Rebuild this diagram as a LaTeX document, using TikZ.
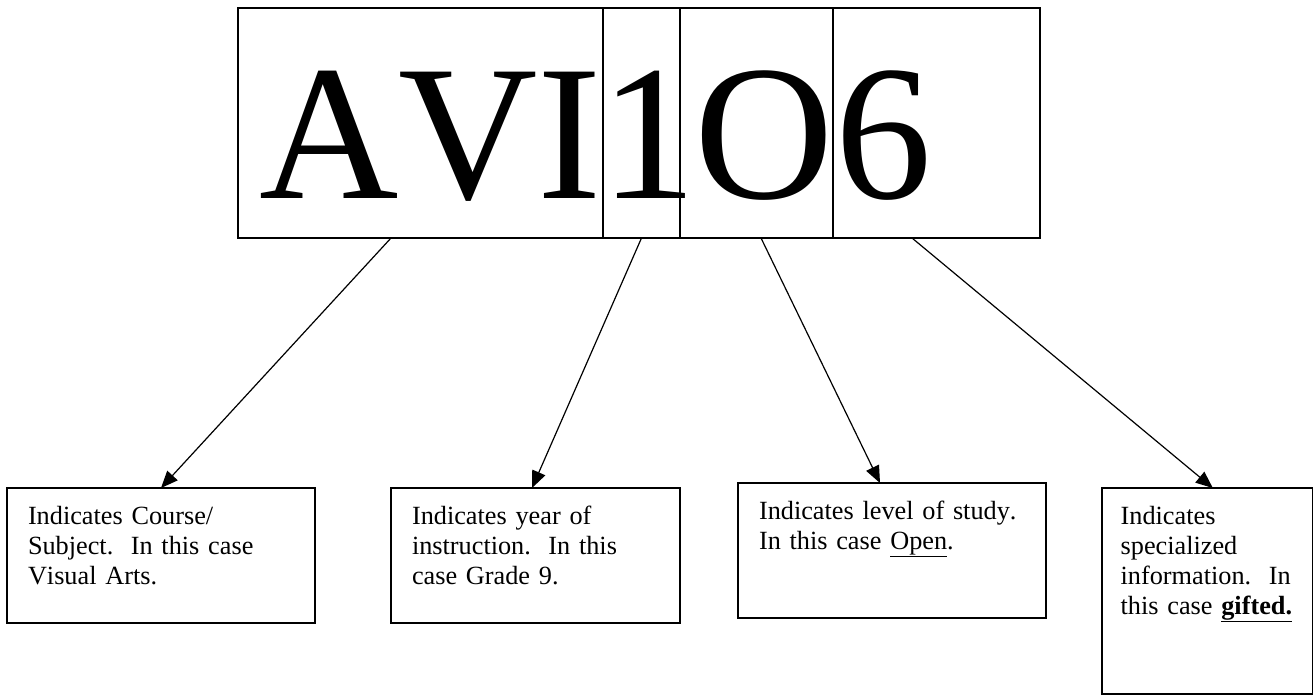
\documentclass[tikz,border=0pt]{standalone}
\usepackage{fontspec}
\setmainfont{Liberation Serif}[Kerning=Off]
\usetikzlibrary{arrows.meta,calc}
\tikzset{
    cell/.style = {draw, line width=1pt, minimum height=172.5pt, inner sep=0pt, outer sep=0pt, anchor=north west},
    glyph/.style = {font = {\fontsize{144.75}{150}\selectfont}, inner sep=0pt, anchor=base},
    infobox/.style = {draw, line width=1.2pt, anchor=north west, align=left,
        inner ysep=0pt, inner xsep=15.75pt, outer sep=0pt, text height=27pt,
        font = {\fontsize{19.7}{22.5}\selectfont}},
    pointer/.style = {-{Triangle[length=12.75pt,width=10.5pt]}, line width=0.9pt}
}
\begin{document}
\begin{tikzpicture}[x=0.75pt,y=-0.75pt]
    \useasboundingbox (0,0) rectangle (1315,696);
    \node[glyph, anchor=base west] (letAVI) at (259,198) {AVI};
    \node[glyph] (letOne) at (649,198) {1};
    \node[glyph] (letO) at (764.5,198) {O};
    \node[glyph] (letSix) at (883.5,198) {6};
    \node[cell, minimum width=273.75pt] (cellA) at (238,8) {};
    \node[cell, minimum width=57.75pt] (cellB) at (cellA.north east) {};
    \node[cell, minimum width=114.75pt] (cellC) at (cellB.north east) {};
    \node[cell, minimum width=155.25pt] (cellD) at (cellC.north east) {};
    \node[infobox, text width=199.5pt, text depth=74.25pt] (course) at (7,488)
        {Indicates Course/\\Subject.~~In this case\\Visual Arts.};
    \node[infobox, text width=185.25pt, text depth=74.25pt] (year) at (391,488)
        {Indicates year of\\instruction.~~In this\\case Grade 9.};
    \node[infobox, text width=199.5pt, text depth=74.25pt] (level) at (738,483)
        {Indicates level of study.\\In this case \underline{Open}.};
    \node[infobox, text width=130pt, inner xsep=14pt, text depth=127.5pt] (special) at (1102,488)
        {Indicates\\specialized\\information.~~In\\\mbox{this case \underline{\textbf{gifted.}}}};
    \draw[pointer] ($(cellA.south)+(-29.5,0)$) -- (course.north);
    \draw[pointer] (cellB.south) -- ($(year.north)+(-3.5,0)$);
    \draw[pointer] ($(cellC.south)+(4.5,0)$) -- ($(level.north)+(-12,0)$);
    \draw[pointer] ($(cellD.south)+(-24.5,0)$) -- ($(special.north)+(5.5,0)$);
\end{tikzpicture}
\end{document}
